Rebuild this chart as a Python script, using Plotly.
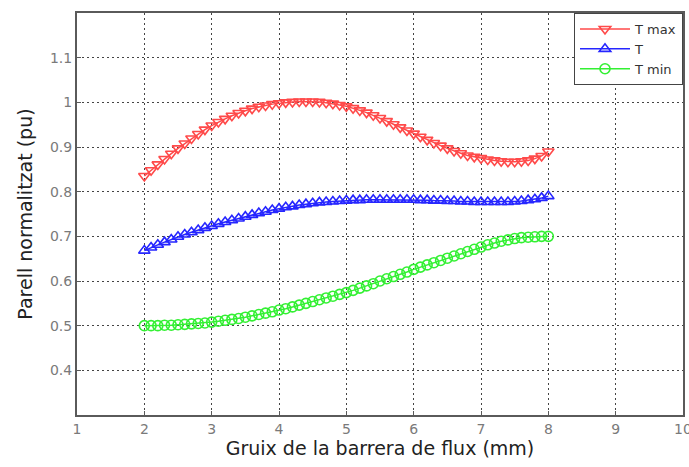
import plotly.graph_objects as go

x_mm = [round(2.0 + 0.1 * i, 1) for i in range(61)]

t_max = [0.835, 0.848, 0.861, 0.873, 0.885, 0.897, 0.908, 0.919, 0.929, 0.939,
         0.948, 0.956, 0.963, 0.970, 0.976, 0.981, 0.986, 0.990, 0.993, 0.996,
         0.998, 1.000, 1.001, 1.002, 1.002, 1.002, 1.001, 0.999, 0.997, 0.994,
         0.991, 0.987, 0.982, 0.977, 0.971, 0.965, 0.958, 0.951, 0.944, 0.937,
         0.930, 0.923, 0.916, 0.909, 0.903, 0.897, 0.891, 0.886, 0.881, 0.878,
         0.875, 0.872, 0.870, 0.868, 0.867, 0.867, 0.868, 0.870, 0.874, 0.880,
         0.890]

t_mid = [0.668, 0.675, 0.681, 0.687, 0.693, 0.699, 0.704, 0.709, 0.714, 0.719,
         0.723, 0.728, 0.732, 0.736, 0.740, 0.744, 0.748, 0.752, 0.755, 0.759,
         0.762, 0.765, 0.767, 0.770, 0.772, 0.774, 0.776, 0.777, 0.778, 0.779,
         0.780, 0.781, 0.781, 0.782, 0.782, 0.782, 0.782, 0.782, 0.782, 0.782,
         0.782, 0.781, 0.781, 0.780, 0.780, 0.779, 0.779, 0.778, 0.778, 0.777,
         0.777, 0.777, 0.777, 0.777, 0.777, 0.778, 0.779, 0.781, 0.783, 0.786,
         0.790]

t_min = [0.500, 0.500, 0.500, 0.501, 0.501, 0.502, 0.503, 0.504, 0.505, 0.506,
         0.508, 0.510, 0.512, 0.514, 0.516, 0.519, 0.522, 0.525, 0.528, 0.531,
         0.535, 0.538, 0.542, 0.546, 0.550, 0.554, 0.558, 0.562, 0.566, 0.570,
         0.574, 0.579, 0.584, 0.589, 0.594, 0.600, 0.605, 0.610, 0.615, 0.620,
         0.626, 0.631, 0.636, 0.641, 0.646, 0.651, 0.656, 0.661, 0.666, 0.671,
         0.676, 0.681, 0.685, 0.689, 0.692, 0.695, 0.697, 0.698, 0.699, 0.700,
         0.700]

x_ticks = [1, 2, 3, 4, 5, 6, 7, 8, 9, 10]
y_ticks = [0.4, 0.5, 0.6, 0.7, 0.8, 0.9, 1.0, 1.1]
y_tick_text = ["0.4", "0.5", "0.6", "0.7", "0.8", "0.9", "1", "1.1"]

series = [
    ("T max", t_max, "#ff4a4a", "triangle-down-open"),
    ("T", t_mid, "#2626ff", "triangle-up-open"),
    ("T min", t_min, "#33f033", "circle-open"),
]

fig = go.Figure()
for name, vals, col, sym in series:
    fig.add_trace(go.Scatter(
        x=x_mm, y=vals, name=name, mode="lines+markers",
        line=dict(color=col, width=1.5),
        marker=dict(symbol=sym, size=10, color=col, line=dict(width=1.6, color=col)),
    ))

axis_common = dict(
    showline=True, linecolor="#5a5a5a", linewidth=2, mirror=True,
    showgrid=True, gridcolor="#444444", griddash="2px,3px", gridwidth=1.3,
    ticks="inside", ticklen=4, tickcolor="#5a5a5a",
    tickfont=dict(family="DejaVu Sans", size=14, color="#7a7a7a"),
    ticklabeloverflow="allow",
    automargin=False,
    zeroline=False,
)

fig.update_layout(
    width=689, height=467,
    margin=dict(l=77, r=6, t=13, b=52),
    paper_bgcolor="white", plot_bgcolor="white",
    showlegend=True,
    legend=dict(x=1, xanchor="right", y=1, yanchor="top",
                bgcolor="white", bordercolor="#444444", borderwidth=1,
                font=dict(family="DejaVu Sans", size=13, color="#333333"),
                tracegroupgap=0, itemwidth=50),
    xaxis=dict(range=[1, 10], tickvals=x_ticks,
               title=dict(text="Gruix de la barrera de flux (mm)",
                          font=dict(family="DejaVu Sans", size=19, color="#222222"),
                          standoff=6),
               **axis_common),
    yaxis=dict(range=[0.3, 1.2], tickvals=y_ticks, ticktext=y_tick_text,
               title=dict(text="Parell normalitzat (pu)",
                          font=dict(family="DejaVu Sans", size=19, color="#222222"),
                          standoff=12),
               **axis_common),
)

fig.write_html("out.html")
